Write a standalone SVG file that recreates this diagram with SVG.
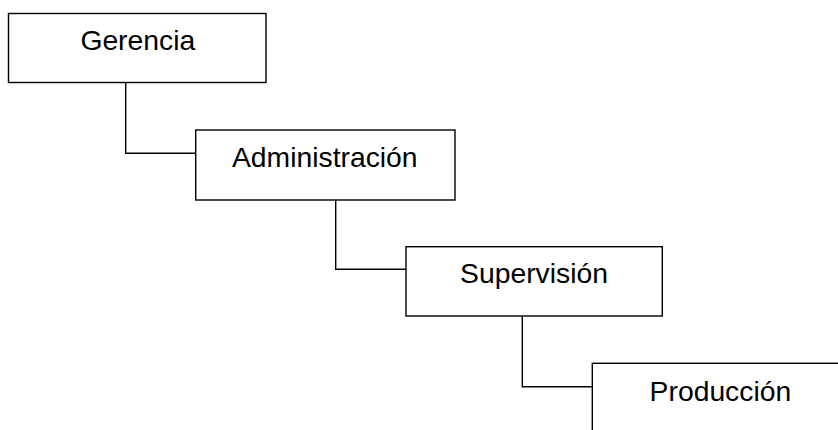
<svg xmlns="http://www.w3.org/2000/svg" width="838" height="430" viewBox="0 0 838 430">
<style>
.box{fill:#fff;stroke:#000;stroke-width:1.4}
.lbl{font-family:"Liberation Sans",Arial,sans-serif;font-size:28.3px;fill:#000;text-anchor:middle}
.con{fill:none;stroke:#000;stroke-width:1.4}
</style>
<rect width="838" height="430" fill="#fff"/>
<g id="connectors">
<polyline class="con" points="125.7,82.5 125.7,153.3 195.7,153.3"/>
<polyline class="con" points="335.7,200 335.7,269.3 406,269.3"/>
<polyline class="con" points="522.3,316 522.3,386.7 592.3,386.7"/>
</g>
<g id="gerencia">
<rect class="box" x="8.5" y="13.5" width="257.5" height="69"/>
<text class="lbl" x="137.8" y="49.5">Gerencia</text>
</g>
<g id="administracion">
<rect class="box" x="195.7" y="130" width="259.3" height="70"/>
<text class="lbl" x="324.8" y="166.7">Administración</text>
</g>
<g id="supervision">
<rect class="box" x="406" y="246.7" width="256.3" height="69.3"/>
<text class="lbl" x="534" y="282.8">Supervisión</text>
</g>
<g id="produccion">
<rect class="box" x="592.3" y="363.3" width="258" height="70"/>
<text class="lbl" x="720.4" y="400.7">Producción</text>
</g>
</svg>
